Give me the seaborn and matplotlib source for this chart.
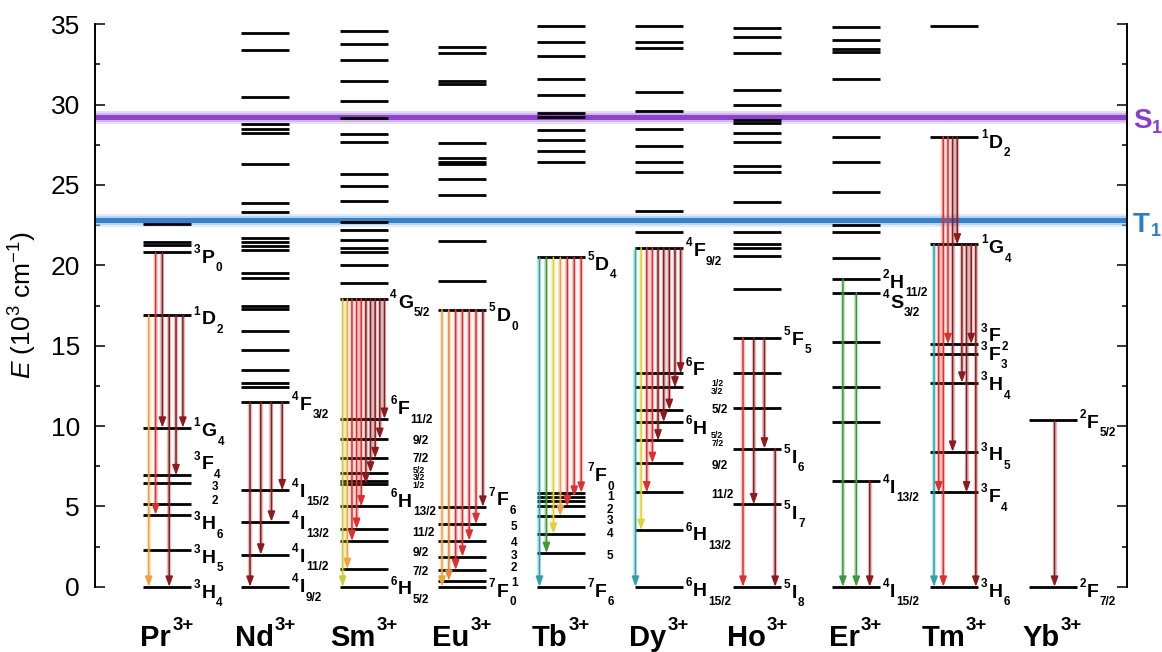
import numpy as np
import pandas as pd
import matplotlib
matplotlib.use("Agg")
import matplotlib.pyplot as plt
import seaborn as sns
from matplotlib.colors import to_rgba

# ---------------------------------------------------------------- data
ions = ["Pr", "Nd", "Sm", "Eu", "Tb", "Dy", "Ho", "Er", "Tm", "Yb"]
ion_charge = "3+"

# energy levels (10^3 cm^-1)
pr_levels = [0.0, 2.3, 4.48, 5.17, 6.47, 6.94, 9.9, 16.9, 20.8, 21.25, 21.45, 22.56]
nd_levels = [0.0, 2.0, 4.05, 6.0, 11.5, 12.45, 12.65, 13.5, 14.7, 15.9, 17.3, 17.5,
             19.2, 19.5, 20.95, 21.2, 21.45, 21.7, 23.3, 23.9, 26.3, 28.25, 28.5,
             28.8, 30.47, 33.4, 34.44]
sm_levels = [0.0, 1.1, 2.85, 3.6, 5.0, 6.4, 6.6, 7.1, 8.0, 9.2, 10.45, 17.9, 18.9,
             20.0, 20.8, 21.1, 21.6, 22.2, 22.7, 24.0, 24.95, 25.7, 27.65, 28.2,
             29.15, 30.2, 31.5, 32.8, 33.8, 34.57]
eu_levels = [0.0, 0.37, 1.04, 1.87, 2.87, 3.9, 4.98, 17.25, 19.0, 21.5, 24.4, 25.35,
             26.3, 26.45, 26.65, 27.6, 31.3, 31.5, 33.2, 33.6]
tb_levels = [0.0, 2.1, 3.3, 4.4, 5.0, 5.35, 5.6, 5.85, 20.5, 26.45, 27.1, 27.8, 28.4,
             29.25, 29.45, 30.6, 31.6, 33.0, 33.9, 34.9]
dy_levels = [0.0, 3.53, 5.87, 7.7, 9.1, 10.25, 11.0, 12.4, 13.27, 21.1, 22.1, 23.4,
             25.8, 26.4, 27.4, 28.5, 29.6, 30.8, 33.5, 33.9, 34.9]
ho_levels = [0.0, 5.13, 8.6, 11.1, 13.27, 15.5, 18.5, 20.6, 21.05, 21.3, 22.1, 23.95,
             25.8, 26.2, 27.65, 28.25, 28.85, 29.05, 30.0, 30.9, 33.2, 34.2, 34.8]
er_levels = [0.0, 6.58, 10.25, 12.4, 15.25, 18.3, 19.15, 20.45, 22.1, 22.5, 24.55,
             26.4, 28.0, 31.6, 33.25, 33.45, 34.05, 34.85]
tm_levels = [0.0, 5.87, 8.4, 12.7, 14.5, 15.1, 21.3, 28.0, 34.9]
yb_levels = [0.0, 10.37]

# radiative transitions (upper, lower, colour), ordered left to right
pr_arrows = [(16.9, 0.0, "o"), (20.8, 4.48, "r"), (20.8, 9.9, "d"),
             (16.9, 0.0, "d"), (16.9, 6.94, "d"), (16.9, 9.9, "d")]
nd_arrows = [(11.5, 0.0, "d"), (11.5, 2.0, "d"), (11.5, 4.05, "d"), (11.5, 6.0, "d")]
sm_arrows = [(17.9, 0.0, "yg"), (17.9, 1.1, "o"), (17.9, 2.85, "r"), (17.9, 3.6, "r"),
             (17.9, 5.0, "r"), (17.9, 6.4, "d"), (17.9, 7.1, "d"), (17.9, 8.0, "d"),
             (17.9, 9.2, "d"), (17.9, 10.45, "d")]
eu_arrows = [(17.25, 0.0, "o"), (17.25, 0.37, "o2"), (17.25, 1.04, "r"),
             (17.25, 1.87, "r"), (17.25, 2.87, "r"), (17.25, 3.9, "r"),
             (17.25, 4.98, "d")]
tb_arrows = [(20.5, 0.0, "c"), (20.5, 2.1, "g"), (20.5, 3.3, "y"), (20.5, 4.4, "o"),
             (20.5, 5.0, "r"), (20.5, 5.6, "r"), (20.5, 5.85, "r")]
dy_arrows = [(21.1, 0.0, "c"), (21.1, 3.53, "y"), (21.1, 5.87, "r"), (21.1, 7.7, "r"),
             (21.1, 9.1, "d"), (21.1, 10.25, "d"), (21.1, 11.0, "d"),
             (21.1, 12.4, "d"), (21.1, 13.27, "d")]
ho_arrows = [(15.5, 0.0, "r"), (15.5, 5.13, "d"), (15.5, 8.6, "d"), (8.6, 0.0, "d")]
er_arrows = [(19.15, 0.0, "g"), (18.3, 0.0, "g"), (6.58, 0.0, "d")]
tm_arrows = [(21.3, 0.0, "c"), (21.3, 5.87, "r"), (28.0, 0.0, "r"), (28.0, 15.1, "r"),
             (28.0, 8.4, "d"), (28.0, 21.3, "d"), (21.3, 12.7, "d"),
             (21.3, 5.87, "d"), (21.3, 15.1, "d"), (21.3, 0.0, "d")]
yb_arrows = [(10.37, 0.0, "d")]

# term symbols: (energy of label, multiplicity, letter, J subscript)
pr_terms = [(20.6, "3", "P", "0"), (16.76, "1", "D", "2"), (9.8, "1", "G", "4"),
            (7.73, "3", "F", "4"), (4.0, "3", "H", "6"), (1.92, "3", "H", "5"),
            (-0.26, "3", "H", "4")]
nd_terms = [(11.46, "4", "F", "3/2"), (6.04, "4", "I", "15/2"), (4.05, "4", "I", "13/2"),
            (2.0, "4", "I", "11/2"), (0.1, "4", "I", "9/2")]
sm_terms = [(17.8, "4", "G", "5/2"), (11.18, "6", "F", "11/2"), (5.4, "6", "H", "13/2"),
            (-0.04, "6", "H", "5/2")]
eu_terms = [(16.97, "5", "D", "0"), (5.5, "7", "F", "6"), (-0.2, "7", "F", "0")]
tb_terms = [(20.17, "5", "D", "4"), (7.0, "7", "F", "0"), (-0.2, "7", "F", "6")]
dy_terms = [(21.0, "4", "F", "9/2"), (13.59, "6", "F", ""), (9.96, "6", "H", ""),
            (3.32, "6", "H", "13/2"), (-0.15, "6", "H", "15/2")]
ho_terms = [(15.5, "5", "F", "5"), (8.15, "5", "I", "6"), (4.67, "5", "I", "7"),
            (-0.25, "5", "I", "8")]
er_terms = [(19.04, "2", "H", "11/2"), (17.8, "4", "S", "3/2"), (6.29, "4", "I", "13/2"),
            (-0.2, "4", "I", "15/2")]
tm_terms = [(27.75, "1", "D", "2"), (21.2, "1", "G", "4"), (15.7, "3", "F", "2"),
            (14.55, "3", "F", "3"), (12.66, "3", "H", "4"), (8.3, "3", "H", "5"),
            (5.7, "3", "F", "4"), (-0.2, "3", "H", "6")]
yb_terms = [(10.33, "2", "F", "5/2"), (-0.2, "2", "F", "7/2")]

# remaining J values of the multiplets, written beside their levels
pr_notes = [(6.3, "3"), (5.4, "2")]
sm_notes = [(9.17, "9/2"), (8.05, "7/2"), (7.3, "5/2"), (6.84, "3/2"), (6.37, "1/2"),
            (3.42, "11/2"), (2.18, "9/2"), (1.0, "7/2")]
eu_notes = [(3.8, "5"), (2.8, "4"), (1.97, "3"), (1.24, "2"), (0.3, "1")]
tb_notes = [(5.68, "1"), (4.85, "2"), (4.15, "3"), (3.35, "4"), (1.97, "5")]
dy_notes = [(12.66, "1/2"), (12.2, "3/2"), (11.1, "5/2"), (9.44, "5/2"), (8.94, "7/2"),
            (7.57, "9/2"), (5.77, "11/2")]

# ligand singlet and triplet states
s1_energy = 29.25
t1_energy = 22.82

# ---------------------------------------------------------------- style
sns.set_theme(style="ticks")
plt.rcParams.update({
    "font.family": ["Liberation Sans", "DejaVu Sans"],
    "mathtext.fontset": "custom",
    "mathtext.rm": "Liberation Sans",
    "mathtext.it": "Liberation Sans:italic",
    "mathtext.bf": "Liberation Sans:bold",
    "axes.linewidth": 1.4,
    "text.color": "black",
    "axes.labelcolor": "black",
    "xtick.color": "black",
    "ytick.color": "black",
    "axes.edgecolor": "black",
})

PX = 0.72            # points per pixel at 100 dpi
UNIT_PX = 16.07      # pixels per 10^3 cm^-1
BIG, SMALL = 14, 8.5
HALF_W = 0.244       # half width of a level bar (data units)

colours = {
    "o": "#f0a23e", "o2": "#e8863a", "r": "#dc3030", "d": "#8c1a1e",
    "y": "#e0d232", "yg": "#c8cc3c", "g": "#3c9a3c", "c": "#2aa4a8",
}

# horizontal spread of the arrow bundle under each ion (fraction of bar width)
arrow_span = {"Pr": (0.12, 0.83), "Nd": (0.18, 0.85), "Sm": (0.06, 0.93),
              "Eu": (0.08, 0.93), "Tb": (0.06, 0.93), "Dy": (0.01, 0.95),
              "Ho": (0.20, 0.87), "Er": (0.23, 0.79), "Tm": (0.08, 0.95),
              "Yb": (0.54, 0.54)}
note_dx = {"Pr": 0.45, "Sm": 0.497, "Eu": 0.495, "Tb": 0.47, "Dy": 0.53}

levels = [pr_levels, nd_levels, sm_levels, eu_levels, tb_levels,
          dy_levels, ho_levels, er_levels, tm_levels, yb_levels]
arrows = [pr_arrows, nd_arrows, sm_arrows, eu_arrows, tb_arrows,
          dy_arrows, ho_arrows, er_arrows, tm_arrows, yb_arrows]
terms = [pr_terms, nd_terms, sm_terms, eu_terms, tb_terms,
         dy_terms, ho_terms, er_terms, tm_terms, yb_terms]
notes = {"Pr": pr_notes, "Sm": sm_notes, "Eu": eu_notes, "Tb": tb_notes, "Dy": dy_notes}

level_df = pd.DataFrame(
    [{"ion": ion, "pos": i, "E": e} for i, ion in enumerate(ions) for e in levels[i]]
)

fig = plt.figure(figsize=(11.62, 6.52), dpi=100)
ax = fig.add_axes([95 / 1162, 65.3 / 652, 1032 / 1162, 562.4 / 652])
ax.set_xlim(-0.7317, 9.756)
ax.set_ylim(0, 35)
renderer = fig.canvas.get_renderer()

# ligand S1 / T1 bands with a soft glow
for energy, core, glow in [(s1_energy, "#8b3dcc", "#c39ae6"),
                           (t1_energy, "#2f7cc8", "#a3c6ec")]:
    ax.axhline(energy, color=glow, lw=13 * PX, alpha=0.35, zorder=1)
    ax.axhline(energy, color=glow, lw=9 * PX, alpha=0.6, zorder=1)
    ax.axhline(energy, color=core, lw=5 * PX, alpha=0.95, zorder=1)

# energy levels as horizontal bar markers
sns.scatterplot(data=level_df, x="pos", y="E", marker="_", s=(2 * HALF_W * 98.4 * PX) ** 2,
                linewidth=2.0, color="black", edgecolor="black", ax=ax, legend=False,
                zorder=2, clip_on=False)

# transitions
head = "-|>,head_length=0.6,head_width=0.22"
for i, ion in enumerate(ions):
    lst = arrows[i]
    a, b = arrow_span[ion]
    xs = i - HALF_W + 2 * HALF_W * np.linspace(a, b, len(lst))
    for x, (e0, e1, key) in zip(xs, lst):
        col = colours[key]
        ax.plot([x, x], [e0 - 0.12, e1 + 0.3], color=to_rgba(col, 0.27),
                lw=4.4 * PX, solid_capstyle="butt", zorder=3)
        ax.annotate("", xy=(x, e1), xytext=(x, e0), zorder=4, annotation_clip=False,
                    arrowprops=dict(arrowstyle=head, color=col, lw=1.1, shrinkA=0,
                                    shrinkB=0, mutation_scale=10))

# term symbol labels
kw = dict(textcoords="offset points", annotation_clip=False, fontweight="bold",
          color="black", ha="left", va="baseline", zorder=5)


def term_label(x, e, mult, letter, sub):
    t1 = ax.annotate(mult, xy=(x, e), xycoords="data", xytext=(0, 2.8 * PX),
                     fontsize=SMALL, **kw)
    t2 = ax.annotate(letter, xy=(1, e), xycoords=(t1, "data"),
                     xytext=(1.3 * PX, -7 * PX), fontsize=BIG, **kw)
    if sub:
        ax.annotate(sub, xy=(1, e), xycoords=(t2, "data"),
                    xytext=(0.8 * PX, -15.5 * PX), fontsize=SMALL, **kw)


for i, ion in enumerate(ions):
    for e, mult, letter, sub in terms[i]:
        term_label(i + HALF_W + 0.026, e, mult, letter, sub)
    lst = notes.get(ion, [])
    es = np.array([e for e, _ in lst])
    for k, (e, txt) in enumerate(lst):
        others = np.delete(es, k)
        gap = np.min(np.abs(others - e)) * UNIT_PX if len(others) else 99
        size = SMALL if gap >= 9 else 6.4
        ax.annotate(txt, xy=(i + note_dx[ion], e), xycoords="data",
                    xytext=(0, -0.5 * size * 0.716), fontsize=size, **kw)


# ion names with their charge, centred under each column
def text_width(s, size):
    t = ax.text(0, 0, s, fontsize=size, fontweight="bold")
    w = t.get_window_extent(renderer).width
    t.remove()
    return w


NAME_SIZE, CHARGE_SIZE = 21, 13.5
charge_w = text_width(ion_charge, CHARGE_SIZE)
for i, ion in enumerate(ions):
    name_w = text_width(ion, NAME_SIZE)
    shift = (name_w - charge_w) / 2 - 0.5
    tn = ax.annotate(ion, xy=(i, 0), xycoords="data", xytext=(shift * PX, -59.5 * PX),
                     textcoords="offset points", fontsize=NAME_SIZE, fontweight="bold",
                     ha="right", va="baseline", annotation_clip=False)
    ax.annotate(ion_charge, xy=(1, 0), xycoords=(tn, "data"),
                xytext=(1 * PX, -43 * PX), textcoords="offset points",
                fontsize=CHARGE_SIZE, fontweight="bold", ha="left", va="baseline",
                annotation_clip=False)

# S1 / T1 labels beyond the right axis
for energy, letter, col in [(29.15, "S", "#8b3dcc"), (22.7, "T", "#2f7cc8")]:
    tl = ax.annotate(letter, xy=(1, energy), xycoords=("axes fraction", "data"),
                     xytext=(6 * PX, -10 * PX), textcoords="offset points",
                     fontsize=20, fontweight="bold", color=col, va="baseline",
                     ha="left", annotation_clip=False)
    ax.annotate("1", xy=(1, energy), xycoords=(tl, "data"),
                xytext=(0.5 * PX, -14.5 * PX), textcoords="offset points",
                fontsize=13, fontweight="bold", color=col, va="baseline",
                ha="left", annotation_clip=False)

# axes
ax.set_yticks(np.arange(0, 36, 5))
ax.set_yticks(np.arange(2.5, 35, 5), minor=True)
ax.tick_params(axis="y", which="both", direction="in", left=True, right=True,
               labelleft=True, labelright=False, width=1.1, labelsize=19,
               pad=10.8, colors="black")
ax.tick_params(axis="y", which="major", length=7.2)
ax.tick_params(axis="y", which="minor", length=3.6)
ax.set_xticks([])
ax.set_xlabel("")
ax.set_ylabel(r"$\mathit{E}$ (10$^{\mathrm{3}}$ cm$^{\mathrm{-1}}$)", fontsize=19,
              color="black")
ax.yaxis.set_label_coords(-0.054, 0.5)
sns.despine(ax=ax, top=True, bottom=True, left=False, right=False)

fig.savefig("out.png", dpi=100)
